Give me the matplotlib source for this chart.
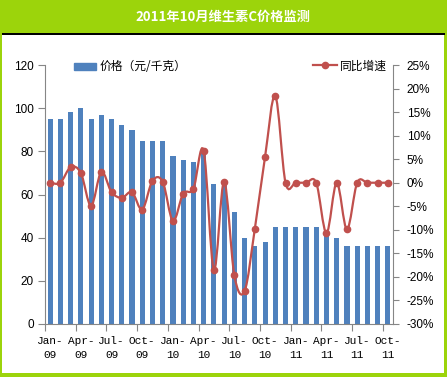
"""2011年10月维生素C价格监测 - bar + smoothed line on twin axes."""
import numpy as np
import matplotlib
matplotlib.use('Agg')
import matplotlib.pyplot as plt
from matplotlib.path import Path
from matplotlib.patches import PathPatch, Rectangle, Patch
from matplotlib.lines import Line2D
from matplotlib.ticker import FuncFormatter

months = ['Jan-09', 'Feb-09', 'Mar-09', 'Apr-09', 'May-09', 'Jun-09', 'Jul-09', 'Aug-09',
          'Sep-09', 'Oct-09', 'Nov-09', 'Dec-09', 'Jan-10', 'Feb-10', 'Mar-10', 'Apr-10',
          'May-10', 'Jun-10', 'Jul-10', 'Aug-10', 'Sep-10', 'Oct-10', 'Nov-10', 'Dec-10',
          'Jan-11', 'Feb-11', 'Mar-11', 'Apr-11', 'May-11', 'Jun-11', 'Jul-11', 'Aug-11',
          'Sep-11', 'Oct-11']
price = [95, 95, 98, 100, 95, 97, 95, 92, 90, 85, 85, 85, 78, 76, 75, 80,
         65, 65, 52, 40, 36, 38, 45, 45, 45, 45, 45, 42, 40, 36, 36, 36, 36, 36]
yoy = [0.0, 0.0, 3.3, 2.1, -4.9, 2.3, -2.0, -3.2, -2.0, -5.7, 0.4, 0.2, -8.1, -2.3, -1.3, 6.8,
       -18.5, 0.2, -19.7, -23.0, -9.8, 5.5, 18.5, 0.0, 0.0, 0.0, 0.0, -10.7, 0.0, -9.9,
       0.0, 0.0, 0.0, 0.0]

GREEN = '#9cd40b'
BLUE = '#4f81bd'
RED = '#c0504d'
GREY = '#868686'
W, H = 447, 377

plt.rcParams['font.family'] = ['Noto Sans CJK SC', 'DejaVu Sans']


def smooth_path(xs, ys):
    pts = np.column_stack([xs, ys]).astype(float)
    n = len(pts)
    verts = [pts[0]]
    codes = [Path.MOVETO]
    for i in range(n - 1):
        p0 = pts[i - 1] if i > 0 else pts[i]
        p3 = pts[i + 2] if i + 2 < n else pts[i + 1]
        c1 = pts[i] + (pts[i + 1] - p0) / 6.0
        c2 = pts[i + 1] - (p3 - pts[i]) / 6.0
        verts += [c1, c2, pts[i + 1]]
        codes += [Path.CURVE4] * 3
    return Path(verts, codes)


fig = plt.figure(figsize=(W / 100, H / 100), dpi=100, facecolor=GREEN)
# white panel + black rule under the title band
fig.patches.append(Rectangle((2 / W, 4 / H), 442 / W, 339 / H, transform=fig.transFigure,
                             facecolor='white', edgecolor='none', zorder=-10))
fig.patches.append(Rectangle((2 / W, 342 / H), 443 / W, 2 / H, transform=fig.transFigure,
                             facecolor='black', edgecolor='none', zorder=-9))
fig.text(223 / W, 1 - 17 / H, '2011年10月维生素C价格监测', color='white', fontsize=9.5,
         fontweight='bold', ha='center', va='center')

ax = fig.add_axes([45 / W, 1 - 324 / H, 348 / W, 259 / H])
ax.patch.set_alpha(0)
x = np.arange(len(months))
bars = ax.bar(x, price, width=0.5, color=BLUE, zorder=2)
ax.set_xlim(-0.5, len(months) - 0.5)
ax.set_ylim(0, 120)
ax.set_yticks(range(0, 121, 20))
ax.tick_params(axis='y', direction='out', length=5, color=GREY, labelsize=8.5, pad=3)
for lab in ax.get_yticklabels():
    lab.set_family('Liberation Sans')

# category axis: tick marks on slot boundaries, labels every quarter
ax.set_xticks(np.arange(-0.5, len(months) - 1, 3))
ax.set_xticklabels([])
ax.tick_params(axis='x', which='major', direction='out', length=5, color=GREY)
ax.set_xticks(x[::3], minor=True)
ax.set_xticklabels([m.replace('-', '-\n') for m in months[::3]], minor=True,
                   family='Liberation Mono', fontsize=8, linespacing=1.5)
ax.tick_params(axis='x', which='minor', length=0, pad=9)

for s in ['top', 'right']:
    ax.spines[s].set_visible(False)
for s in ['left', 'bottom']:
    ax.spines[s].set_color(GREY)

ax2 = ax.twinx()
ax2.add_patch(PathPatch(smooth_path(x, yoy), fill=False, edgecolor=RED, lw=1.6, zorder=3))
ax2.plot(x, yoy, 'o', color=RED, markersize=4.5, zorder=4)
ax2.set_ylim(-30, 25)
ax2.set_yticks(range(-30, 26, 5))
ax2.yaxis.set_major_formatter(FuncFormatter(lambda v, p: f'{v:.0f}%'))
ax2.tick_params(axis='y', direction='out', length=4, color=GREY, labelsize=8.5, pad=6)
for lab in ax2.get_yticklabels():
    lab.set_family('Liberation Sans')
for s in ['top', 'left', 'bottom']:
    ax2.spines[s].set_visible(False)
ax2.spines['right'].set_color(GREY)

leg1 = fig.legend(handles=[Patch(color=BLUE, label='价格（元/千克）')], loc='center left',
                  bbox_to_anchor=(68 / W, 1 - 67 / H), frameon=False, fontsize=8.5,
                  handlelength=1.9, handleheight=0.5, handletextpad=0.25, borderpad=0)
leg2 = fig.legend(handles=[Line2D([], [], color=RED, lw=1.6, marker='o', markersize=4.5,
                                  label='同比增速')], loc='center left',
                  bbox_to_anchor=(307 / W, 1 - 66 / H), frameon=False, fontsize=8.5,
                  handlelength=2.0, handletextpad=0.3, borderpad=0)

fig.savefig('out.png', dpi=100, facecolor=GREEN)
